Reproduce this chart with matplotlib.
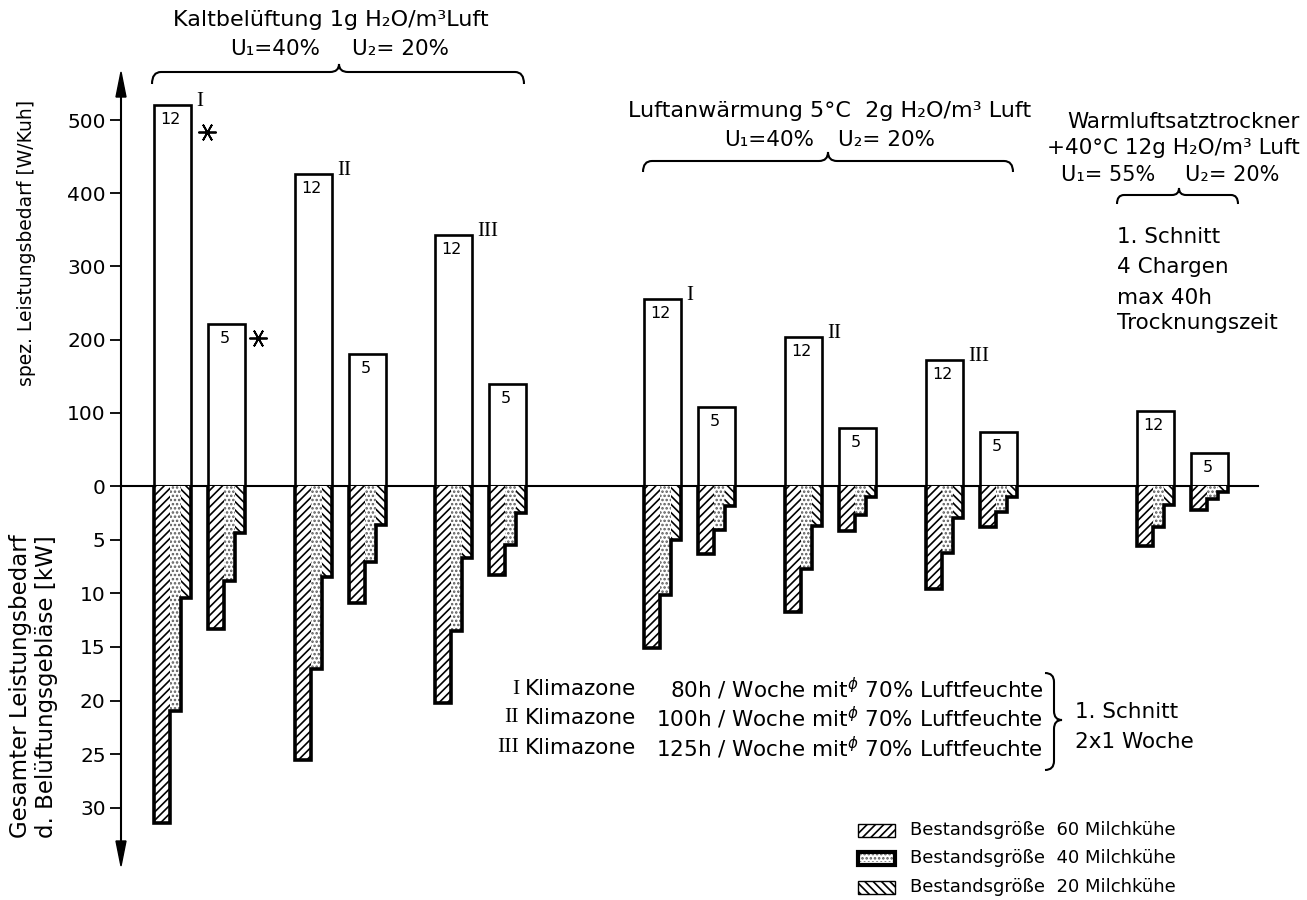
import matplotlib.pyplot as plt
from matplotlib.patches import Rectangle, PathPatch, Polygon
from matplotlib.path import Path
from matplotlib.transforms import offset_copy

plt.rcParams['font.family'] = 'DejaVu Sans'
plt.rcParams['hatch.linewidth'] = 1.2

W, H = 1307, 900

# --- Leistungsbedarf je Variante (7 Paare: 12er- und 5er-Balken) ---
zones = ['I', 'II', 'III', 'I', 'II', 'III', '']
spez_12 = [520, 426, 343, 255, 203, 172, 103]   # W/Kuh
spez_5 = [221, 180, 139, 108, 79, 74, 45]
kw60_12 = [31.4, 25.5, 20.2, 15.1, 11.7, 9.6, 5.6]  # kW, 60 Kuehe
kw40_12 = [21.0, 17.1, 13.5, 10.2, 7.7, 6.2, 3.8]
kw20_12 = [10.4, 8.5, 6.7, 5.0, 3.7, 3.0, 1.8]
kw60_5 = [13.3, 10.9, 8.3, 6.3, 4.2, 3.8, 2.2]
kw40_5 = [8.9, 7.1, 5.5, 4.1, 2.7, 2.4, 1.2]
kw20_5 = [4.4, 3.6, 2.5, 1.9, 1.0, 1.0, 0.6]
upper_ticks = [0, 100, 200, 300, 400, 500]
lower_ticks = [5, 10, 15, 20, 25, 30]

# layout (pixel-like x positions)
pair_x = [172, 313, 453, 662, 803, 944, 1155]
pair_gap = 54
bw = 37
x_axis = 121
y_zero = 486

fig = plt.figure(figsize=(W / 100, H / 100), dpi=100)


def frac(x0, y_top, x1, y_bot):
    return [x0 / W, 1 - y_bot / H, (x1 - x0) / W, (y_bot - y_top) / H]


ax_top = fig.add_axes(frac(x_axis, 75, W, y_zero))
ax_bot = fig.add_axes(frac(x_axis, y_zero, W, 862))
ax_top.set_xlim(x_axis, W)
ax_bot.set_xlim(x_axis, W)
ax_top.set_ylim(0, (y_zero - 75) / 0.732)
ax_bot.set_ylim((862 - y_zero) / 10.73, 0)

for ax in (ax_top, ax_bot):
    for s in ('top', 'right', 'bottom'):
        ax.spines[s].set_visible(False)
    ax.spines['left'].set_linewidth(1.5)
    ax.set_xticks([])
    ax.patch.set_alpha(0)
    ax.tick_params(axis='y', direction='out', length=8, width=1.3,
                   labelsize=14.5, pad=3)
ax_top.set_yticks(upper_ticks)
ax_bot.set_yticks(lower_ticks)

ax_top.plot([x_axis, 1258], [0, 0], color='black', lw=1.5, clip_on=False)


def upper_bar(x, h, label):
    ax_top.bar(x, h, width=bw, color='white', edgecolor='black', lw=1.9)
    ax_top.annotate(label, (x, h), xytext=(-1, -5), textcoords='offset points',
                    ha='center', va='top', fontsize=11.5)


def staircase(x, d60, d40, d20):
    x0 = x - bw / 2
    ws = [bw * 0.45, bw * 0.28, bw * 0.27]
    lefts = [x0, x0 + ws[0], x0 + ws[0] + ws[1]]
    ax_bot.bar(lefts[0], d60, width=ws[0], align='edge', color='white',
               edgecolor='black', hatch='////', lw=0)
    ax_bot.bar(lefts[1], d40, width=ws[1], align='edge', color='white',
               edgecolor='#5a5a5a', hatch='....', lw=0)
    ax_bot.bar(lefts[2], d20, width=ws[2], align='edge', color='white',
               edgecolor='black', hatch='\\\\\\\\', lw=0)
    xs = [lefts[0], lefts[0], lefts[1], lefts[1], lefts[2], lefts[2],
          x0 + bw, x0 + bw]
    ys = [0, d60, d60, d40, d40, d20, d20, 0]
    ax_bot.plot(xs, ys, color='black', lw=2.6, solid_joinstyle='miter')


for i, px in enumerate(pair_x):
    x5 = px + pair_gap
    upper_bar(px, spez_12[i], '12')
    upper_bar(x5, spez_5[i], '5')
    staircase(px, kw60_12[i], kw40_12[i], kw20_12[i])
    staircase(x5, kw60_5[i], kw40_5[i], kw20_5[i])
    if zones[i]:
        ax_top.annotate(zones[i], (px + bw / 2, spez_12[i]), xytext=(4, 2.5),
                        textcoords='offset points', ha='left', va='center',
                        fontsize=15, family='Liberation Serif')

# Sternchen an Klimazone I, Kaltbelueftung
star = dict(marker=(6, 2, 90), color='black', markersize=13, mew=1.3,
            linestyle='none', clip_on=False)
ax_top.plot(pair_x[0] + bw / 2, spez_12[0],
            transform=offset_copy(ax_top.transData, fig=fig, x=12, y=-19,
                                  units='points'), **star)
ax_top.plot(pair_x[0] + pair_gap + bw / 2, spez_5[0],
            transform=offset_copy(ax_top.transData, fig=fig, x=10, y=-10,
                                  units='points'), **star)

# --- overlay for labels, braces, arrows, legend (pixel coords) ---
ov = fig.add_axes([0, 0, 1, 1])
ov.set_xlim(0, W)
ov.set_ylim(H, 0)
ov.axis('off')
ov.patch.set_alpha(0)

ov.add_patch(Polygon([(x_axis, 72), (x_axis - 5, 97), (x_axis + 5, 97)],
                     closed=True, color='black'))
ov.add_patch(Polygon([(x_axis, 866), (x_axis - 5, 841), (x_axis + 5, 841)],
                     closed=True, color='black'))


def hbrace(x0, x1, xc, yl, yt, ye, r=9):
    verts = [(x0, ye), (x0, yl), (x0 + r, yl), (xc - r, yl), (xc, yl), (xc, yt),
             (xc, yl), (xc + r, yl), (x1 - r, yl), (x1, yl), (x1, ye)]
    codes = [Path.MOVETO, Path.CURVE3, Path.CURVE3, Path.LINETO, Path.CURVE3,
             Path.CURVE3, Path.CURVE3, Path.CURVE3, Path.LINETO, Path.CURVE3,
             Path.CURVE3]
    ov.add_patch(PathPatch(Path(verts, codes), fill=False, lw=1.5))


def vbrace(y0, y1, yc, xl, xt, xe, r=9):
    verts = [(xe, y0), (xl, y0), (xl, y0 + r), (xl, yc - r), (xl, yc), (xt, yc),
             (xl, yc), (xl, yc + r), (xl, y1 - r), (xl, y1), (xe, y1)]
    codes = [Path.MOVETO, Path.CURVE3, Path.CURVE3, Path.LINETO, Path.CURVE3,
             Path.CURVE3, Path.CURVE3, Path.CURVE3, Path.LINETO, Path.CURVE3,
             Path.CURVE3]
    ov.add_patch(PathPatch(Path(verts, codes), fill=False, lw=1.5))


hbrace(152, 524, 339, 72, 64, 84)
hbrace(643, 1013, 828, 161, 152, 172)
hbrace(1117, 1238, 1179, 195, 188, 204, r=7)
vbrace(673, 770, 720, 1054, 1062, 1045)

fs = 15.5
ov.text(331, 20, 'Kaltbelüftung 1g H₂O/m³Luft', ha='center', va='center', fontsize=16)
ov.text(275, 49, 'U₁=40%', ha='center', va='center', fontsize=fs)
ov.text(401, 49, 'U₂= 20%', ha='center', va='center', fontsize=fs)

ov.text(830, 111, 'Luftanwärmung 5°C  2g H₂O/m³ Luft', ha='center', va='center', fontsize=16)
ov.text(769, 140, 'U₁=40%', ha='center', va='center', fontsize=fs)
ov.text(887, 140, 'U₂= 20%', ha='center', va='center', fontsize=fs)

ov.text(1300, 122, 'Warmluftsatztrockner', ha='right', va='center', fontsize=fs)
ov.text(1300, 148, '+40°C 12g H₂O/m³ Luft', ha='right', va='center', fontsize=fs)
ov.text(1108, 175, 'U₁= 55%', ha='center', va='center', fontsize=15)
ov.text(1232, 175, 'U₂= 20%', ha='center', va='center', fontsize=15)
for yy, t in zip([237, 267, 298, 323],
                 ['1. Schnitt', '4 Chargen', 'max 40h', 'Trocknungszeit']):
    ov.text(1117, yy, t, ha='left', va='center', fontsize=fs)

klima_num = ['I', 'II', 'III']
klima_h = ['80h', '100h', '125h']
for yy, n, hrs in zip([689, 718, 748], klima_num, klima_h):
    ov.text(519, yy, n, ha='right', va='center', fontsize=15.5, family='Liberation Serif')
    ov.text(525, yy, 'Klimazone', ha='left', va='center', fontsize=fs)
    ov.text(1043, yy, hrs + ' / Woche mit$^{\\phi}$ 70% Luftfeuchte',
            ha='right', va='center', fontsize=fs)
ov.text(1075, 712, '1. Schnitt', ha='left', va='center', fontsize=fs)
ov.text(1075, 742, '2x1 Woche', ha='left', va='center', fontsize=fs)

ov.text(27, 243, 'spez. Leistungsbedarf [W/Kuh]', rotation=90, ha='center',
        va='center', fontsize=13.5)
ov.text(20, 838, 'Gesamter Leistungsbedarf', rotation=90, ha='left',
        va='center', rotation_mode='anchor', fontsize=16.5)
ov.text(46, 838, 'd. Belüftungsgebläse [kW]', rotation=90, ha='left',
        va='center', rotation_mode='anchor', fontsize=16.5)

# legend
leg_y = [830, 858, 887]
leg_txt = ['Bestandsgröße  60 Milchkühe', 'Bestandsgröße  40 Milchkühe',
           'Bestandsgröße  20 Milchkühe']
ov.add_patch(Rectangle((858, leg_y[0] - 6.5), 37, 13, facecolor='white',
                       edgecolor='black', hatch='////', lw=1.0))
ov.add_patch(Rectangle((858, leg_y[1] - 6.5), 37, 13, facecolor='white',
                       edgecolor='black', lw=3.0))
ov.add_patch(Rectangle((860, leg_y[1] - 4), 33, 8, facecolor='none',
                       edgecolor='#5a5a5a', hatch='....', lw=0))
ov.add_patch(Rectangle((858, leg_y[2] - 6.5), 37, 13, facecolor='white',
                       edgecolor='black', hatch='\\\\\\\\', lw=1.0))
for yy, t in zip(leg_y, leg_txt):
    ov.text(910, yy, t, ha='left', va='center', fontsize=13)

fig.savefig('out.png', dpi=100, facecolor='white')
